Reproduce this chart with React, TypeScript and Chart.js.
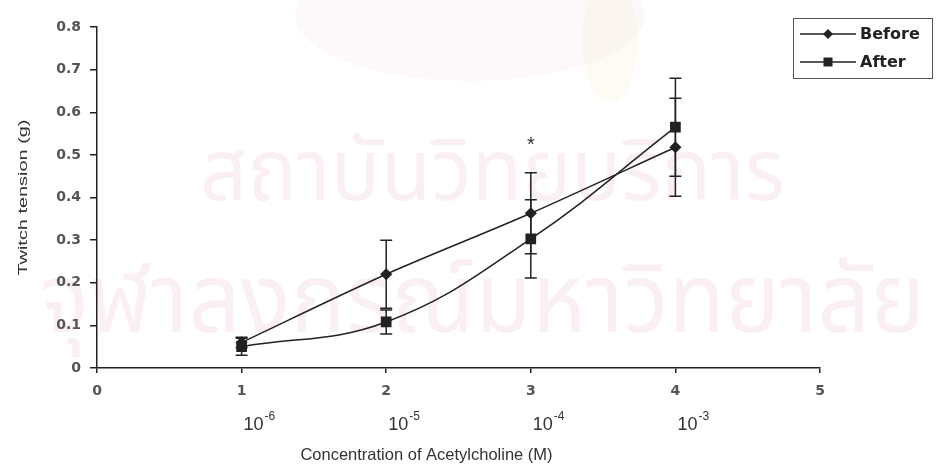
import React, { useEffect, useRef } from "react";
import { Chart, registerables } from "chart.js";

Chart.register(...registerables);

// Acetylcholine doses on the coded axis (1..4 => 10^-6 .. 10^-3 M)
const doses = [1, 2, 3, 4];
const doseExponents = ["-6", "-5", "-4", "-3"];

// Twitch tension (g), mean and error for each dose
const beforeMeans = [0.06, 0.22, 0.363, 0.518];
const beforeErr = [0.012, 0.08, 0.095, 0.115];
const afterMeans = [0.05, 0.108, 0.303, 0.565];
const afterErr = [0.02, 0.028, 0.092, 0.115];

// significance marks per dose
const significance = ["", "", "*", ""];

const seriesNames = ["Before", "After"];
const xTitle = "Concentration of Acetylcholine (M)";
const yTitle = "Twitch tension (g)";
const watermarkLines = ["สถาบันวิทยบริการ", "จุฬาลงกรณ์มหาวิทยาลัย"];

const INK = "#222";
const TICK_INK = "#555";
const TICK_FONT = { family: "'DejaVu Sans', sans-serif", size: 14, weight: "bold" as const };

const backdrop = {
  id: "backdrop",
  beforeDraw(chart: any) {
    const { ctx, width, height } = chart;
    ctx.save();
    ctx.fillStyle = "#fff";
    ctx.fillRect(0, 0, width, height);

    // faint crest behind the top of the plot
    ctx.fillStyle = "rgba(200, 120, 150, 0.045)";
    ctx.beginPath();
    ctx.ellipse(470, 15, 175, 66, 0, 0, Math.PI * 2);
    ctx.fill();
    ctx.fillStyle = "rgba(230, 200, 120, 0.08)";
    ctx.beginPath();
    ctx.ellipse(610, 40, 28, 62, 0, 0, Math.PI * 2);
    ctx.fill();

    ctx.fillStyle = "rgba(190, 60, 110, 0.075)";
    ctx.textBaseline = "alphabetic";
    ctx.textAlign = "left";
    const rows = [
      { text: watermarkLines[0], x: 200, y: 200, w: 585, size: 86 },
      { text: watermarkLines[1], x: 40, y: 332, w: 885, size: 96 },
    ];
    rows.forEach((r) => {
      ctx.font = `${r.size}px 'Noto Sans Thai', 'Noto Sans', 'DejaVu Sans', sans-serif`;
      const m = ctx.measureText(r.text).width;
      ctx.save();
      ctx.translate(r.x, r.y);
      ctx.scale(r.w / m, 1);
      ctx.fillText(r.text, 0, 0);
      ctx.restore();
    });
    ctx.restore();
  },
};

const errorBars = {
  id: "errorBars",
  afterDatasetsDraw(chart: any) {
    const { ctx } = chart;
    const yScale = chart.scales.y;
    chart.data.datasets.forEach((ds: any, i: number) => {
      const meta = chart.getDatasetMeta(i);
      meta.data.forEach((pt: any, j: number) => {
        const v = ds.data[j].y;
        const e = ds.errors[j];
        const top = yScale.getPixelForValue(v + e);
        const bot = yScale.getPixelForValue(v - e);
        ctx.save();
        ctx.strokeStyle = INK;
        ctx.lineWidth = 1.5;
        ctx.beginPath();
        ctx.moveTo(pt.x, top);
        ctx.lineTo(pt.x, bot);
        ctx.moveTo(pt.x - 6, top);
        ctx.lineTo(pt.x + 6, top);
        ctx.moveTo(pt.x - 6, bot);
        ctx.lineTo(pt.x + 6, bot);
        ctx.stroke();
        ctx.restore();
      });
    });
  },
};

function drawMarker(ctx: CanvasRenderingContext2D, style: string, x: number, y: number) {
  ctx.beginPath();
  if (style === "rectRot") {
    ctx.moveTo(x, y - 5);
    ctx.lineTo(x + 5, y);
    ctx.lineTo(x, y + 5);
    ctx.lineTo(x - 5, y);
    ctx.closePath();
  } else {
    ctx.rect(x - 4.5, y - 4.5, 9, 9);
  }
  ctx.fill();
}

const annotations = {
  id: "annotations",
  afterDraw(chart: any) {
    const { ctx, chartArea } = chart;
    const xs = chart.scales.x;
    const ys = chart.scales.y;
    ctx.save();
    ctx.fillStyle = "#333";

    // powers of ten under the coded dose ticks
    doses.forEach((d, i) => {
      const px = xs.getPixelForValue(d) + 2;
      ctx.textAlign = "left";
      ctx.textBaseline = "alphabetic";
      ctx.font = "18px 'Liberation Sans', Arial, sans-serif";
      ctx.fillText("10", px, 430);
      const w = ctx.measureText("10").width;
      ctx.font = "12px 'Liberation Sans', Arial, sans-serif";
      ctx.fillText(doseExponents[i], px + w + 1, 420);
    });

    // x axis title
    ctx.font = "16.5px 'Liberation Sans', Arial, sans-serif";
    ctx.textAlign = "center";
    ctx.textBaseline = "middle";
    ctx.fillText(xTitle, (chartArea.left + chartArea.right) / 2 - 32, 455);

    // y axis title, rotated
    ctx.save();
    ctx.translate(23, (chartArea.top + chartArea.bottom) / 2);
    ctx.rotate(-Math.PI / 2);
    ctx.font = "13px 'Liberation Sans', Arial, sans-serif";
    const tw = ctx.measureText(yTitle).width;
    ctx.scale(156 / tw, 1);
    ctx.fillText(yTitle, 0, 0);
    ctx.restore();

    // significance marks
    significance.forEach((s, i) => {
      if (!s) return;
      const top = Math.max(beforeMeans[i] + beforeErr[i], afterMeans[i] + afterErr[i]);
      ctx.font = "20px 'Liberation Sans', Arial, sans-serif";
      ctx.textAlign = "center";
      ctx.textBaseline = "middle";
      ctx.fillText(s, xs.getPixelForValue(doses[i]), ys.getPixelForValue(top) - 27);
    });

    // legend box
    ctx.strokeStyle = "#555";
    ctx.lineWidth = 1;
    ctx.strokeRect(793.5, 18.5, 139, 60);
    const styles = ["rectRot", "rect"];
    seriesNames.forEach((name, i) => {
      const y = 34 + i * 28;
      ctx.strokeStyle = INK;
      ctx.fillStyle = INK;
      ctx.lineWidth = 1.5;
      ctx.beginPath();
      ctx.moveTo(800, y);
      ctx.lineTo(856, y);
      ctx.stroke();
      drawMarker(ctx, styles[i], 828, y);
      ctx.font = "bold 16px 'DejaVu Sans', sans-serif";
      ctx.textAlign = "left";
      ctx.textBaseline = "middle";
      ctx.fillText(name, 860, y + 1);
    });
    ctx.restore();
  },
};

export default function App() {
  const ref = useRef<HTMLCanvasElement>(null);
  useEffect(() => {
    const canvas = ref.current!;
    const chart = new Chart(canvas, {
      type: "line",
      data: {
        datasets: [
          {
            label: seriesNames[0],
            data: doses.map((d, i) => ({ x: d, y: beforeMeans[i] })),
            errors: beforeErr,
            borderColor: INK,
            backgroundColor: INK,
            borderWidth: 1.5,
            pointStyle: "rectRot",
            pointRadius: 5,
            tension: 0.3,
          } as any,
          {
            label: seriesNames[1],
            data: doses.map((d, i) => ({ x: d, y: afterMeans[i] })),
            errors: afterErr,
            borderColor: INK,
            backgroundColor: INK,
            borderWidth: 1.5,
            pointStyle: "rect",
            pointRadius: 6.5,
            tension: 0.4,
          } as any,
        ],
      },
      options: {
        responsive: true,
        maintainAspectRatio: false,
        animation: false,
        layout: { padding: { left: 0, top: 27, right: 117, bottom: 0 } },
        plugins: { legend: { display: false }, tooltip: { enabled: false } },
        scales: {
          x: {
            type: "linear",
            min: 0,
            max: 5,
            ticks: { stepSize: 1, font: TICK_FONT, color: TICK_INK, padding: 10, maxRotation: 0 },
            grid: { display: true, drawOnChartArea: false, drawTicks: true, tickLength: 5, color: INK, lineWidth: 1.5 },
            border: { display: true, color: INK, width: 1.5 },
            afterFit: (s: any) => {
              s.height = 104;
            },
          },
          y: {
            min: 0,
            max: 0.8,
            ticks: {
              stepSize: 0.1,
              font: TICK_FONT,
              color: TICK_INK,
              padding: 9,
              callback: (v: any) => String(Math.round(Number(v) * 10) / 10),
            },
            grid: { display: true, drawOnChartArea: false, drawTicks: true, tickLength: 7, color: INK, lineWidth: 1.5 },
            border: { display: true, color: INK, width: 1.5 },
            afterFit: (s: any) => {
              s.width = 97;
            },
          },
        },
      },
      plugins: [backdrop, errorBars, annotations],
    });
    return () => chart.destroy();
  }, []);
  return (
    <div style={{ position: "fixed", left: 0, top: 0, width: 937, height: 472, background: "#fff" }}>
      <canvas ref={ref} />
    </div>
  );
}
